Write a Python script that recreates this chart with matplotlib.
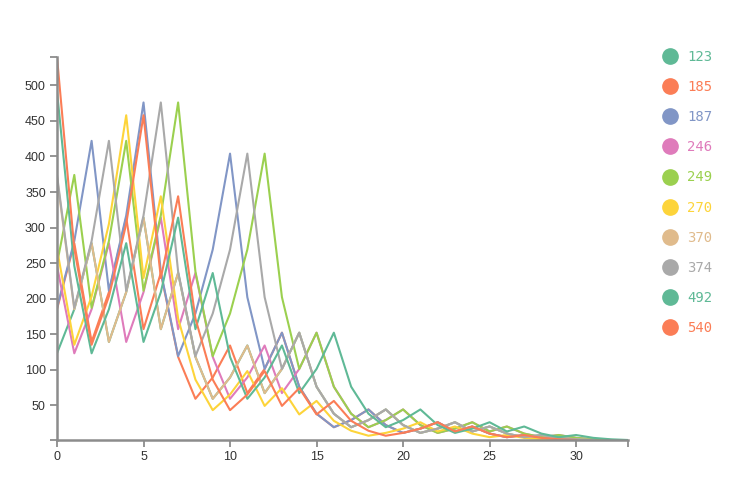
import matplotlib
matplotlib.use('Agg')
import matplotlib.pyplot as plt
from matplotlib.lines import Line2D
from matplotlib.font_manager import FontProperties

# trajectories (one series per starting number)
names = ['123', '185', '187', '246', '249', '270', '370', '374', '492', '540']

s123 = [123, 185, 278, 139, 209, 314, 157, 236, 118, 59, 89, 134, 67, 101, 152, 76, 38,
        19, 29, 44, 22, 11, 17, 26, 13, 20, 10, 5, 8, 4, 2, 1]
s185 = [185, 278, 139, 209, 314, 157, 236, 118, 59, 89, 134, 67, 101, 152, 76, 38,
        19, 29, 44, 22, 11, 17, 26, 13, 20, 10, 5, 8, 4, 2, 1]
s187 = [187, 281, 422, 211, 317, 476, 238, 119, 179, 269, 404, 202, 101, 152, 76, 38,
        19, 29, 44, 22, 11, 17, 26, 13, 20, 10, 5, 8, 4, 2, 1]
s246 = [246, 123, 185, 278, 139, 209, 314, 157, 236, 118, 59, 89, 134, 67, 101, 152, 76, 38,
        19, 29, 44, 22, 11, 17, 26, 13, 20, 10, 5, 8, 4, 2, 1]
s249 = [249, 374, 187, 281, 422, 211, 317, 476, 238, 119, 179, 269, 404, 202, 101, 152, 76, 38,
        19, 29, 44, 22, 11, 17, 26, 13, 20, 10, 5, 8, 4, 2, 1]
s270 = [270, 135, 203, 305, 458, 229, 344, 172, 86, 43, 65, 98, 49, 74, 37, 56, 28, 14,
        7, 11, 17, 26, 13, 20, 10, 5, 8, 4, 2, 1]
s370 = [370, 185, 278, 139, 209, 314, 157, 236, 118, 59, 89, 134, 67, 101, 152, 76, 38,
        19, 29, 44, 22, 11, 17, 26, 13, 20, 10, 5, 8, 4, 2, 1]
s374 = [374, 187, 281, 422, 211, 317, 476, 238, 119, 179, 269, 404, 202, 101, 152, 76, 38,
        19, 29, 44, 22, 11, 17, 26, 13, 20, 10, 5, 8, 4, 2, 1]
s492 = [492, 246, 123, 185, 278, 139, 209, 314, 157, 236, 118, 59, 89, 134, 67, 101, 152, 76, 38,
        19, 29, 44, 22, 11, 17, 26, 13, 20, 10, 5, 8, 4, 2, 1]
s540 = [540, 270, 135, 203, 305, 458, 229, 344, 172, 86, 43, 65, 98, 49, 74, 37, 56, 28, 14,
        7, 11, 17, 26, 13, 20, 10, 5, 8, 4, 2, 1]

series = [s123, s185, s187, s246, s249, s270, s370, s374, s492, s540]

colors = ['#5fb996', '#fb7d56', '#8196c6', '#df7bbb', '#9bd04f',
          '#fdd43a', '#e0bb8c', '#a9a9a9', '#5fb996', '#fb7d56']

plt.rcParams['font.family'] = ['Liberation Sans', 'DejaVu Sans']

fig = plt.figure(figsize=(7.4, 5.0), dpi=100)
ax = fig.add_axes([57 / 740, 1 - 440 / 500, (628 - 57) / 740, (440 - 57) / 500])

for name, ys, c in zip(names, series, colors):
    ax.plot(range(len(ys)), ys, color=c, lw=1.5, label=name)

ax.set_xlim(0, 33)
ax.set_ylim(1, 540)
ax.set_xticks([0, 5, 10, 15, 20, 25, 30])
ax.set_yticks([50, 100, 150, 200, 250, 300, 350, 400, 450, 500])
ax.set_xticks([0, 33], minor=True)
ax.set_yticks([1, 540], minor=True)

for side in ['top', 'right']:
    ax.spines[side].set_visible(False)
for side in ['left', 'bottom']:
    ax.spines[side].set_color('#8c8c8c')
    ax.spines[side].set_linewidth(1.8)
ax.tick_params(which='both', direction='out', length=5, width=1.3, color='#8c8c8c',
               labelsize=9, labelcolor='#333333', pad=3)

mono = FontProperties(family='DejaVu Sans Mono', size=10)
handles = [Line2D([], [], ls='none', marker='o', markersize=11, color=c) for c in colors]
leg = ax.legend(handles, names, loc='upper left', bbox_to_anchor=(656 / 740, 1 - 43 / 500),
                bbox_transform=fig.transFigure, frameon=False, handlelength=1.0,
                handletextpad=0.75, labelspacing=1.16, borderpad=0, prop=mono)
for t, c in zip(leg.get_texts(), colors):
    t.set_color(c)

fig.savefig('out.png', dpi=100)
